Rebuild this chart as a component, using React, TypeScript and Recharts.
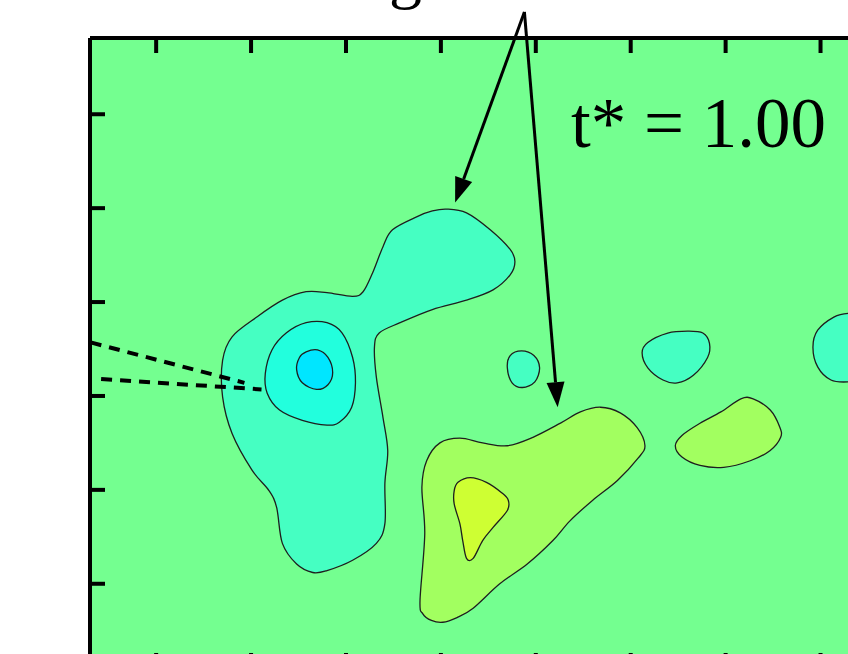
import {
  ComposedChart,
  CartesianGrid,
  ReferenceDot,
  ReferenceLine,
  Scatter,
  XAxis,
  YAxis,
} from 'recharts'

type Pt = { x: number; y: number }

// axis ticks (tick units), frame edges sit between ticks
const xTicks = [0, 1, 2, 3, 4, 5, 6, 7, 8]
const yTicks = [0, 1, 2, 3, 4, 5]
const xDomain: [number, number] = [-0.697, 8.48]
const yDomain: [number, number] = [-0.897, 5.812]

// contour outlines
const bigBlob: Pt[] = [
  { x: 3.06, y: 3.99 }, { x: 3.27, y: 3.95 }, { x: 3.52, y: 3.77 }, { x: 3.73, y: 3.56 },
  { x: 3.78, y: 3.43 }, { x: 3.73, y: 3.29 }, { x: 3.55, y: 3.13 }, { x: 3.27, y: 3.02 },
  { x: 2.91, y: 2.92 }, { x: 2.57, y: 2.78 }, { x: 2.35, y: 2.67 }, { x: 2.3, y: 2.52 },
  { x: 2.32, y: 2.2 }, { x: 2.39, y: 1.77 }, { x: 2.44, y: 1.42 }, { x: 2.41, y: 1.07 },
  { x: 2.41, y: 0.64 }, { x: 2.32, y: 0.43 }, { x: 2.07, y: 0.25 }, { x: 1.8, y: 0.14 },
  { x: 1.65, y: 0.12 }, { x: 1.48, y: 0.21 }, { x: 1.33, y: 0.43 }, { x: 1.27, y: 0.81 },
  { x: 1.19, y: 0.99 }, { x: 1.01, y: 1.21 }, { x: 0.8, y: 1.6 }, { x: 0.7, y: 1.99 },
  { x: 0.7, y: 2.38 }, { x: 0.8, y: 2.63 }, { x: 1.06, y: 2.84 }, { x: 1.33, y: 3.02 },
  { x: 1.58, y: 3.11 }, { x: 1.8, y: 3.1 }, { x: 2.07, y: 3.06 }, { x: 2.18, y: 3.11 },
  { x: 2.28, y: 3.31 }, { x: 2.39, y: 3.59 }, { x: 2.49, y: 3.77 }, { x: 2.75, y: 3.91 },
  { x: 2.91, y: 3.97 },
]
const midRing: Pt[] = [
  { x: 1.58, y: 2.78 }, { x: 1.8, y: 2.78 }, { x: 1.96, y: 2.67 }, { x: 2.07, y: 2.41 },
  { x: 2.1, y: 2.14 }, { x: 2.06, y: 1.88 }, { x: 1.93, y: 1.72 }, { x: 1.8, y: 1.69 },
  { x: 1.54, y: 1.74 }, { x: 1.3, y: 1.85 }, { x: 1.17, y: 2.03 }, { x: 1.15, y: 2.24 },
  { x: 1.22, y: 2.49 }, { x: 1.37, y: 2.67 },
]
const core: Pt[] = [
  { x: 1.58, y: 2.47 }, { x: 1.7, y: 2.49 }, { x: 1.81, y: 2.41 }, { x: 1.86, y: 2.25 },
  { x: 1.81, y: 2.12 }, { x: 1.69, y: 2.07 }, { x: 1.54, y: 2.14 }, { x: 1.48, y: 2.28 },
  { x: 1.51, y: 2.41 },
]
const smallCircle: Pt[] = [
  { x: 3.7, y: 2.3 }, { x: 3.73, y: 2.43 }, { x: 3.85, y: 2.48 }, { x: 3.98, y: 2.43 },
  { x: 4.04, y: 2.3 }, { x: 3.99, y: 2.15 }, { x: 3.86, y: 2.09 }, { x: 3.75, y: 2.14 },
]
const blobA: Pt[] = [
  { x: 5.12, y: 2.46 }, { x: 5.18, y: 2.57 }, { x: 5.39, y: 2.67 }, { x: 5.6, y: 2.69 },
  { x: 5.76, y: 2.67 }, { x: 5.83, y: 2.56 }, { x: 5.81, y: 2.41 }, { x: 5.66, y: 2.22 },
  { x: 5.49, y: 2.14 }, { x: 5.34, y: 2.17 }, { x: 5.18, y: 2.3 },
]
const blobB: Pt[] = [
  { x: 6.92, y: 2.52 }, { x: 6.97, y: 2.7 }, { x: 7.14, y: 2.84 }, { x: 7.29, y: 2.88 },
  { x: 7.53, y: 2.86 }, { x: 7.66, y: 2.54 }, { x: 7.55, y: 2.19 }, { x: 7.29, y: 2.15 },
  { x: 7.11, y: 2.17 }, { x: 6.97, y: 2.31 },
]
const warmBlob: Pt[] = [
  { x: 2.81, y: -0.32 }, { x: 2.78, y: -0.18 }, { x: 2.83, y: 0.53 }, { x: 2.8, y: 1.03 },
  { x: 2.85, y: 1.31 }, { x: 2.99, y: 1.5 }, { x: 3.2, y: 1.55 }, { x: 3.44, y: 1.5 },
  { x: 3.7, y: 1.47 }, { x: 3.97, y: 1.56 }, { x: 4.26, y: 1.71 }, { x: 4.47, y: 1.83 },
  { x: 4.68, y: 1.88 }, { x: 4.89, y: 1.82 }, { x: 5.07, y: 1.66 }, { x: 5.15, y: 1.47 },
  { x: 5.08, y: 1.34 }, { x: 4.86, y: 1.1 }, { x: 4.6, y: 0.89 }, { x: 4.36, y: 0.67 },
  { x: 4.18, y: 0.46 }, { x: 3.91, y: 0.21 }, { x: 3.62, y: 0.0 }, { x: 3.34, y: -0.26 },
  { x: 3.17, y: -0.36 }, { x: 3.02, y: -0.41 }, { x: 2.9, y: -0.39 },
]
const warmCore: Pt[] = [
  { x: 3.18, y: 1.08 }, { x: 3.31, y: 1.13 }, { x: 3.48, y: 1.08 }, { x: 3.64, y: 0.97 },
  { x: 3.71, y: 0.89 }, { x: 3.7, y: 0.78 }, { x: 3.55, y: 0.6 }, { x: 3.44, y: 0.46 },
  { x: 3.34, y: 0.27 }, { x: 3.27, y: 0.27 }, { x: 3.23, y: 0.46 }, { x: 3.2, y: 0.64 },
  { x: 3.14, y: 0.85 }, { x: 3.14, y: 0.99 },
]
const warmSmall: Pt[] = [
  { x: 5.47, y: 1.47 }, { x: 5.54, y: 1.58 }, { x: 5.73, y: 1.71 }, { x: 5.95, y: 1.83 },
  { x: 6.16, y: 1.97 }, { x: 6.29, y: 1.97 }, { x: 6.47, y: 1.85 }, { x: 6.57, y: 1.67 },
  { x: 6.58, y: 1.56 }, { x: 6.47, y: 1.42 }, { x: 6.26, y: 1.31 }, { x: 5.98, y: 1.24 },
  { x: 5.73, y: 1.26 }, { x: 5.54, y: 1.35 },
]

// annotations
const arrowApex: Pt = { x: 3.88, y: 6.09 }
const arrowTips: Pt[] = [{ x: 3.15, y: 4.06 }, { x: 4.23, y: 1.88 }]
const dashUpper: Pt[] = [{ x: -0.69, y: 2.57 }, { x: 0.93, y: 2.14 }]
const dashLower: Pt[] = [{ x: -0.58, y: 2.18 }, { x: 1.11, y: 2.07 }]
const timeLabel = { x: 4.37, y: 4.65, text: 't* = 1.00' }
const topLabel = { x: 2.8, y: 6.26, text: 'Clustering' }

const contours: { name: string; pts: Pt[]; fill: string }[] = [
  { name: 'big', pts: bigBlob, fill: '#45FFC2' },
  { name: 'mid', pts: midRing, fill: '#22FFDD' },
  { name: 'core', pts: core, fill: '#00E6FF' },
  { name: 'small', pts: smallCircle, fill: '#45FFC2' },
  { name: 'a', pts: blobA, fill: '#45FFC2' },
  { name: 'b', pts: blobB, fill: '#45FFC2' },
  { name: 'warm', pts: warmBlob, fill: '#A2FF60' },
  { name: 'warmCore', pts: warmCore, fill: '#CEFF33' },
  { name: 'warmSmall', pts: warmSmall, fill: '#A2FF60' },
]

// closed Catmull-Rom path through the scaled points
function closedPath(pts: { x: number; y: number }[]) {
  const n = pts.length
  if (!n) return ''
  let d = `M${pts[0].x},${pts[0].y}`
  for (let i = 0; i < n; i++) {
    const p0 = pts[(i - 1 + n) % n]
    const p1 = pts[i]
    const p2 = pts[(i + 1) % n]
    const p3 = pts[(i + 2) % n]
    const c1x = p1.x + (p2.x - p0.x) / 6
    const c1y = p1.y + (p2.y - p0.y) / 6
    const c2x = p2.x - (p3.x - p1.x) / 6
    const c2y = p2.y - (p3.y - p1.y) / 6
    d += ` C${c1x},${c1y} ${c2x},${c2y} ${p2.x},${p2.y}`
  }
  return d + ' Z'
}

const contourLine = (fill: string) => (props: any) => (
  <path
    d={closedPath(props.points || [])}
    fill={fill}
    stroke="#1e1e1e"
    strokeWidth={1.3}
    strokeLinejoin="round"
  />
)

// dashed guide lines sit above the contours, so they are scatter lines too
const dashLine = (props: any) => {
  const pts = props.points || []
  if (pts.length < 2) return <g />
  return (
    <line
      x1={pts[0].x}
      y1={pts[0].y}
      x2={pts[1].x}
      y2={pts[1].y}
      stroke="#000"
      strokeWidth={4}
      strokeDasharray="11 8"
    />
  )
}

const arrowShape = (props: any) => {
  const { x1, y1, x2, y2 } = props
  if ([x1, y1, x2, y2].some(v => v == null || isNaN(v))) return <g />
  // segment goes apex -> tip; the head sits on the tip
  const dx = x2 - x1
  const dy = y2 - y1
  const len = Math.hypot(dx, dy)
  const ux = dx / len
  const uy = dy / len
  const headL = 25
  const headW = 9
  const bx = x2 - ux * headL
  const by = y2 - uy * headL
  return (
    <g>
      <line x1={x1} y1={y1} x2={bx} y2={by} stroke="#000" strokeWidth={3} />
      <polygon
        points={`${x2},${y2} ${bx - uy * headW},${by + ux * headW} ${bx + uy * headW},${by - ux * headW}`}
        fill="#000"
      />
    </g>
  )
}

const noLabel = () => <g />
const axisStyle = { stroke: '#000', strokeWidth: 4 }
const serif = "'Liberation Serif', 'Times New Roman', serif"

export default function App() {
  return (
    <div
      style={{
        position: 'fixed',
        left: 0,
        top: 0,
        width: 848,
        height: 654,
        overflow: 'hidden',
        background: '#fff',
      }}
    >
      <ComposedChart
        width={1000}
        height={700}
        margin={{ top: 38, right: 39, bottom: 32, left: 90 }}
      >
        <CartesianGrid fill="#74FF90" horizontal={false} vertical={false} />
        <XAxis
          xAxisId="b"
          dataKey="x"
          type="number"
          orientation="bottom"
          domain={xDomain}
          ticks={xTicks}
          interval={0}
          height={1}
          mirror
          tick={noLabel}
          tickSize={15}
          axisLine={axisStyle}
          tickLine={axisStyle}
        />
        <XAxis
          xAxisId="t"
          dataKey="x"
          type="number"
          orientation="top"
          domain={xDomain}
          ticks={xTicks}
          interval={0}
          height={1}
          mirror
          tick={noLabel}
          tickSize={15}
          axisLine={axisStyle}
          tickLine={axisStyle}
        />
        <YAxis
          yAxisId="l"
          dataKey="y"
          type="number"
          orientation="left"
          domain={yDomain}
          ticks={yTicks}
          interval={0}
          width={1}
          mirror
          tick={noLabel}
          tickSize={15}
          axisLine={axisStyle}
          tickLine={axisStyle}
        />
        <YAxis
          yAxisId="r"
          dataKey="y"
          type="number"
          orientation="right"
          domain={yDomain}
          ticks={yTicks}
          interval={0}
          width={1}
          mirror
          tick={noLabel}
          tickSize={15}
          axisLine={axisStyle}
          tickLine={axisStyle}
        />
        {contours.map(c => (
          <Scatter
            key={c.name}
            name={c.name}
            data={c.pts}
            xAxisId="b"
            yAxisId="l"
            fill={c.fill}
            line={contourLine(c.fill)}
            lineType="joint"
            shape={() => <g />}
            isAnimationActive={false}
          />
        ))}
        {/* the dashed lines ride on the top/right axes (same domains) so those axes get their ticks */}
        {[dashUpper, dashLower].map((seg, i) => (
          <Scatter
            key={`dash-${i}`}
            name={`dash-${i}`}
            data={seg}
            xAxisId="t"
            yAxisId="r"
            fill="#000"
            line={dashLine}
            lineType="joint"
            shape={() => <g />}
            isAnimationActive={false}
          />
        ))}
        {arrowTips.map((tip, i) => (
          <ReferenceLine
            key={`arrow-${i}`}
            xAxisId="b"
            yAxisId="l"
            segment={[arrowApex, tip]}
            ifOverflow="visible"
            shape={arrowShape}
          />
        ))}
        <ReferenceDot
          xAxisId="b"
          yAxisId="l"
          x={timeLabel.x}
          y={timeLabel.y}
          r={0}
          ifOverflow="visible"
          shape={(p: any) => (
            <text x={p.cx} y={p.cy} fontFamily={serif} fontSize={71} fill="#000">
              {timeLabel.text}
            </text>
          )}
        />
        <ReferenceDot
          xAxisId="b"
          yAxisId="l"
          x={topLabel.x}
          y={topLabel.y}
          r={0}
          ifOverflow="visible"
          shape={(p: any) => (
            <text
              x={p.cx}
              y={p.cy}
              textAnchor="end"
              fontFamily={serif}
              fontSize={66}
              fill="#000"
            >
              {topLabel.text}
            </text>
          )}
        />
      </ComposedChart>
    </div>
  )
}
